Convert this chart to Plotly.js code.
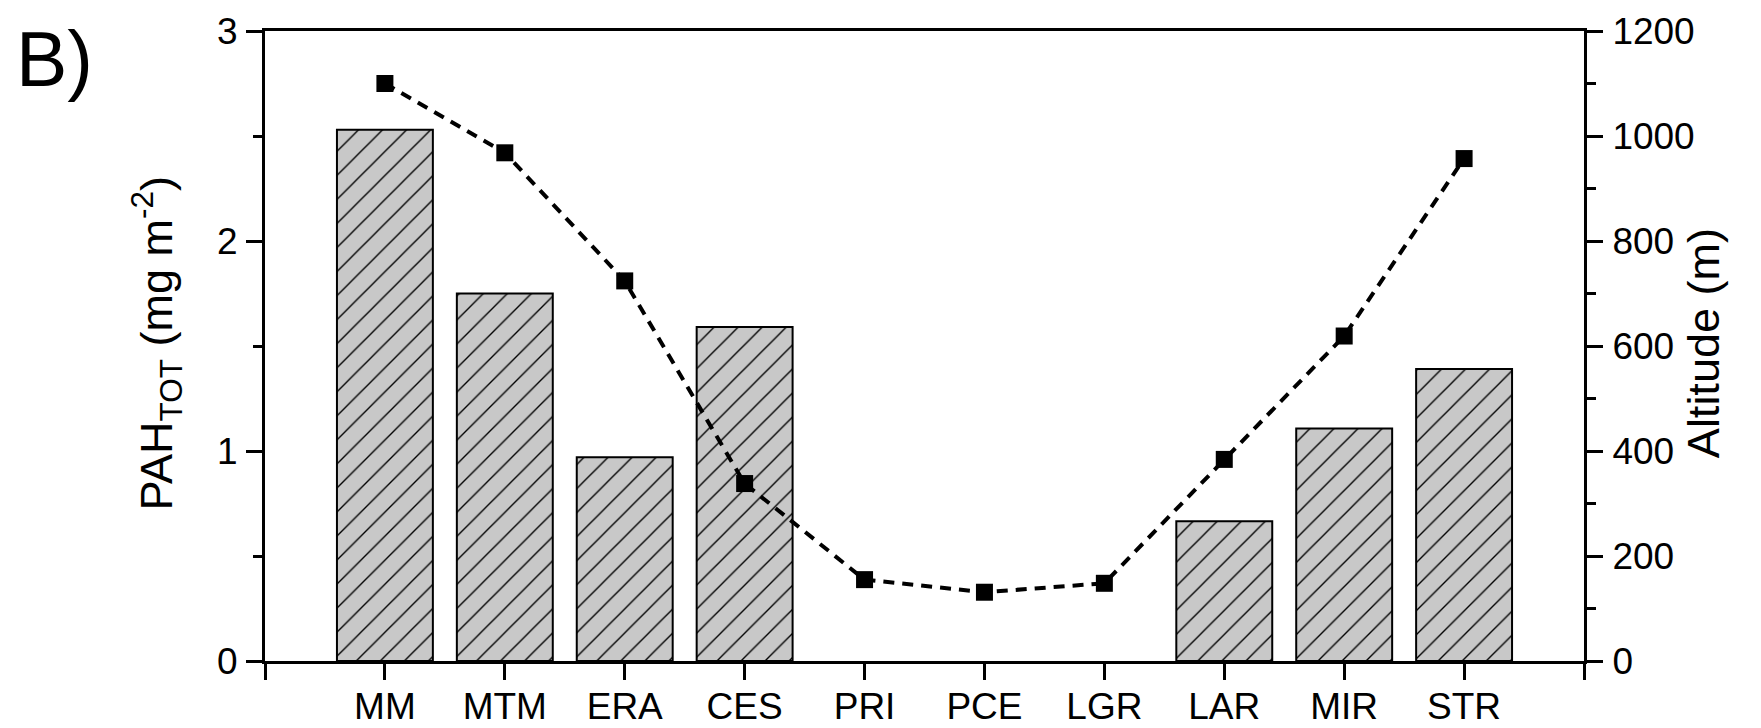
<!DOCTYPE html>
<html>
<head>
<meta charset="utf-8">
<script src="https://cdn.plot.ly/plotly-3.0.1.min.js"></script>
<style>
  html, body { margin: 0; padding: 0; background: #fff; }
  #chart { width: 1761px; height: 728px; }
</style>
</head>
<body>
<div id="chart"></div>
<script>
// Sampling sites, ordered along the transect
const categories = ['MM', 'MTM', 'ERA', 'CES', 'PRI', 'PCE', 'LGR', 'LAR', 'MIR', 'STR'];
// Total PAH deposition (mg m-2); null where no value was measured
const pahTot = [2.53, 1.75, 0.97, 1.59, null, null, null, 0.665, 1.107, 1.39];
// Site altitude (m)
const altitude = [1100, 968, 724, 338, 155, 131, 148, 384, 619, 957];
// Axis tick values
const leftTicks = [0, 1, 2, 3];
const rightTicks = [0, 200, 400, 600, 800, 1000, 1200];

const xPos = categories.map((_, i) => i);
const xEnds = [-1, categories.length];

const FONT = 'Liberation Sans, Arial, sans-serif';

const bars = {
  type: 'bar',
  x: xPos,
  y: pahTot,
  width: 0.8,
  marker: {
    color: '#c8c8c8',
    line: { color: '#000', width: 2 },
    pattern: { shape: '/', size: 17, solidity: 0.08, fgcolor: '#000', bgcolor: '#c8c8c8' }
  },
  showlegend: false
};

const alt = {
  type: 'scatter',
  mode: 'lines+markers',
  x: xPos,
  y: altitude,
  yaxis: 'y2',
  line: { color: '#000', width: 4, dash: '11px,8px' },
  marker: { symbol: 'square', size: 17, color: '#000' },
  showlegend: false
};

const axisCommon = {
  showline: true,
  linecolor: '#000',
  linewidth: 3,
  ticks: 'outside',
  ticklen: 16,
  tickwidth: 3,
  tickcolor: '#000',
  showgrid: false,
  zeroline: false,
  tickfont: { family: FONT, size: 37, color: '#000' }
};

const titleFont = { family: FONT, size: 45, color: '#000' };

const layout = {
  width: 1761,
  height: 728,
  margin: { l: 265, r: 177, t: 31, b: 67 },
  paper_bgcolor: '#fff',
  plot_bgcolor: '#fff',
  xaxis: Object.assign({}, axisCommon, {
    range: xEnds,
    tickmode: 'array',
    tickvals: xPos,
    ticktext: categories,
    mirror: true,
    ticklabelstandoff: -5,
    // end ticks at both ends of the category axis
    minor: { tickmode: 'array', tickvals: xEnds, ticks: 'outside', ticklen: 16, tickwidth: 3, tickcolor: '#000', showgrid: false }
  }),
  yaxis: Object.assign({}, axisCommon, {
    range: [0, 3],
    tickmode: 'array',
    tickvals: leftTicks,
    minor: { dtick: 0.5, ticks: 'outside', ticklen: 9, tickwidth: 3, tickcolor: '#000', showgrid: false },
    ticklabelstandoff: 1
  }),
  yaxis2: Object.assign({}, axisCommon, {
    overlaying: 'y',
    side: 'right',
    range: [0, 1200],
    tickmode: 'array',
    tickvals: rightTicks,
    minor: { dtick: 100, ticks: 'outside', ticklen: 9, tickwidth: 3, tickcolor: '#000', showgrid: false },
    ticklabelstandoff: 2
  }),
  annotations: [
    {
      text: 'B)',
      xref: 'paper', yref: 'paper',
      x: -0.19, y: 0.955,
      xanchor: 'left', yanchor: 'middle',
      showarrow: false,
      font: { family: FONT, size: 77, color: '#000' }
    },
    {
      // left axis title
      text: 'PAH<sub>TOT</sub> (mg m<sup>-2</sup>)',
      xref: 'paper', yref: 'paper',
      x: -0.0823, y: 0.5045,
      xanchor: 'center', yanchor: 'middle',
      textangle: -90,
      showarrow: false,
      font: titleFont
    },
    {
      // right axis title
      text: 'Altitude (m)',
      xref: 'paper', yref: 'paper',
      x: 1.0902, y: 0.5045,
      xanchor: 'center', yanchor: 'middle',
      textangle: -90,
      showarrow: false,
      font: titleFont
    }
  ]
};

Plotly.newPlot('chart', [bars, alt], layout, { staticPlot: true, displayModeBar: false });
</script>
</body>
</html>
